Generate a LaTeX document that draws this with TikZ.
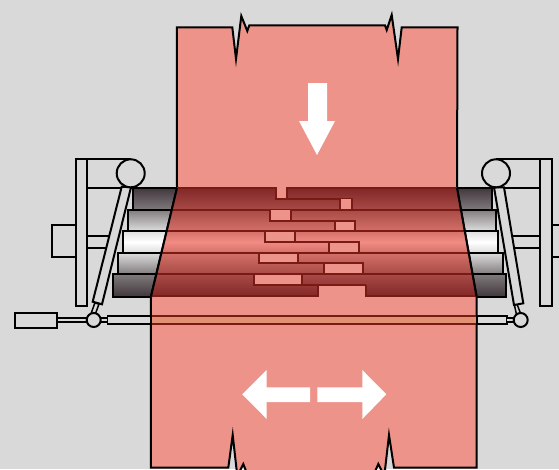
\documentclass[tikz,border=0pt]{standalone}
\definecolor{bgc}{RGB}{217,217,217}
\definecolor{sheet}{RGB}{238,147,138}
\definecolor{edge}{RGB}{122,26,20}
\definecolor{strip}{RGB}{224,146,115}
\definecolor{ra}{RGB}{130,40,40}
\definecolor{rb}{RGB}{168,74,70}
\definecolor{rc}{RGB}{212,112,104}
\definecolor{rd}{RGB}{240,140,130}
\definecolor{ga}{RGB}{65,55,60}
\definecolor{gb}{RGB}{128,122,124}
\definecolor{gc}{RGB}{222,222,222}
\tikzset{
  part/.style={draw=black,line width=2pt,fill=bgc},
  plainline/.style={draw=black,line width=2pt},
  sheetshape/.style={draw=black,line width=2pt,fill=sheet,miter limit=30,line join=miter},
  gap/.style={fill=sheet,draw=edge,line width=1.8pt},
  seam/.style={draw=edge,line width=2pt},
  whitearrow/.style={fill=white,draw=none}
}
\begin{document}
\begin{tikzpicture}[x=1pt,y=-1pt]
\useasboundingbox (0,0) rectangle (559,469);
\clip (0,0) rectangle (559,469);
\fill[bgc] (0,0) rectangle (559,469);
% left frame
\draw[part] (51.7,225.3) rectangle (76,256.7);
\draw[part] (87,236) rectangle (112,248.3);
\draw[part] (76,159.3) rectangle (87.3,305.7);
\draw[plainline] (87.3,159.3) -- (131,159.3);
\draw[plainline] (87.3,188.3) -- (135,188.3);
% right frame
\draw[part] (551.7,225.3) rectangle (565,256.7);
\draw[part] (508,236) rectangle (540,248.3);
\draw[part] (540,159.3) rectangle (551.7,305.7);
\draw[plainline] (496,159.3) -- (540,159.3);
\draw[plainline] (490,188.3) -- (540,188.3);
% grey rolls, left
\shade[top color=ga,bottom color=gb] (133,188) rectangle (180,209.5);
\shade[top color=gb,bottom color=gc] (128,209.5) rectangle (180,231);
\shade[top color=gc,bottom color=gc,middle color=white] (123.3,231) rectangle (180,252.7);
\shade[top color=gc,bottom color=gb] (118,252.7) rectangle (180,274.3);
\shade[top color=gb,bottom color=ga] (112.5,274.3) rectangle (180,296.5);
\foreach \xa/\ya/\yb in {133/188/209.5,128/209.5/231,123.3/231/252.7,118/252.7/274.3,112.5/274.3/296.5}
  \draw[plainline] (177,\ya) -- (\xa,\ya) -- (\xa,\yb) -- (177,\yb);
% grey rolls, right
\shade[top color=ga,bottom color=gb] (450,188) rectangle (491.7,209.5);
\shade[top color=gb,bottom color=gc] (450,209.5) rectangle (495.7,231);
\shade[top color=gc,bottom color=gc,middle color=white] (450,231) rectangle (498.3,252.7);
\shade[top color=gc,bottom color=gb] (450,252.7) rectangle (502.7,274.3);
\shade[top color=gb,bottom color=ga] (450,274.3) rectangle (506,296.5);
\foreach \xa/\ya/\yb in {491.7/188/209.5,495.7/209.5/231,498.3/231/252.7,502.7/252.7/274.3,506/274.3/296.5}
  \draw[plainline] (450,\ya) -- (\xa,\ya) -- (\xa,\yb) -- (450,\yb);
% sheet
\draw[sheetshape] (151,296) -- (177,188) -- (176.8,27.3) -- (232.3,27.3) -- (236,59) -- (241.3,16) -- (247.3,31) -- (249.3,25.3) -- (385,25.3) -- (386.7,30) -- (391.7,15) -- (398,59) -- (401.7,27.3) -- (457.5,27.3) -- (457,188) -- (476.5,296) -- (476.7,467.7) -- (394,467.7) -- (389,435) -- (384.3,476) -- (378.3,464) -- (373,476) -- (248,476) -- (243.3,464) -- (237.3,476) -- (232.7,435) -- (228.3,467.7) -- (150.8,467.7) -- cycle;
% rolls across the sheet
\shade[top color=ra,bottom color=rb] (177,188) -- (457,188) -- (460.8,209.5) -- (171.8,209.5) -- cycle;
\shade[top color=rb,bottom color=rc] (171.8,209.5) -- (460.8,209.5) -- (464.7,231) -- (166.6,231) -- cycle;
\shade[top color=rc,bottom color=rc,middle color=rd] (166.6,231) -- (464.7,231) -- (468.6,252.7) -- (161.4,252.7) -- cycle;
\shade[top color=rc,bottom color=rb] (161.4,252.7) -- (468.6,252.7) -- (472.5,274.3) -- (156.2,274.3) -- cycle;
\shade[top color=rb,bottom color=ra] (156.2,274.3) -- (472.5,274.3) -- (476.5,296.5) -- (151,296.5) -- cycle;
% seams
\draw[seam] (177,188) -- (276,188);
\draw[seam] (287,188) -- (457,188);
\draw[seam] (171.8,209.5) -- (460.8,209.5);
\draw[seam] (166.6,231) -- (464.7,231);
\draw[seam] (161.4,252.7) -- (468.6,252.7);
\draw[seam] (156.2,274.3) -- (472.5,274.3);
\draw[seam] (151,296.3) -- (318.3,296.3);
\draw[seam] (366,296.3) -- (476.5,296.3);
% overlap gaps
\fill[sheet] (276,186) rectangle (287,198.5);
\draw[seam] (276,187) -- (276,198.5) -- (352,198.5) -- (352,209.5);
\draw[seam] (287,187) -- (287,198.5);
\draw[gap] (340,198.5) rectangle (352,209.5);
\draw[gap] (270,209.5) rectangle (291,220.7);
\draw[seam] (270,220.7) -- (355.3,220.7);
\draw[gap] (334.7,220.7) rectangle (355.3,231);
\draw[gap] (264.7,231) rectangle (295,242);
\draw[seam] (264.7,242) -- (359.3,242);
\draw[gap] (328.7,242) rectangle (359.3,252.7);
\draw[gap] (259.3,252.7) rectangle (298.3,263.3);
\draw[seam] (259.3,263.3) -- (363,263.3);
\draw[gap] (323.7,263.3) rectangle (363,274.3);
\draw[gap] (253.7,274.3) rectangle (302,285.3);
\draw[seam] (253.7,285.3) -- (366,285.3);
\fill[sheet] (318.3,285.3) rectangle (366,298.5);
\draw[seam] (318.3,285.3) -- (318.3,297.2);
\draw[seam] (366,285.3) -- (366,297.2);
\draw[seam] (318.3,285.3) -- (366,285.3);
% sheet side edges over the rolls
\draw[plainline] (177,188) -- (151,296.5);
\draw[plainline] (457,188) -- (476.5,296.5);
% cross bar
\fill[strip] (151,316) rectangle (476.5,324);
\draw[draw=edge,line width=1.6pt] (151,316) -- (476.5,316);
\draw[draw=edge,line width=1.6pt] (151,324) -- (476.5,324);
\draw[part,line width=1.6pt] (151,316) -- (107.3,316) -- (107.3,324) -- (151,324);
\draw[part,line width=1.6pt] (476.5,316) -- (506.7,316) -- (506.7,324) -- (476.5,324);
\draw[plainline] (151,315) -- (151,325);
\draw[plainline] (476.5,315) -- (476.5,325);
\draw[part,line width=1.5pt] (56.7,317.8) rectangle (90,321.8);
\draw[part,line width=1.5pt] (98,317.8) rectangle (107.3,321.8);
\draw[part,line width=1.5pt] (506.7,317.8) rectangle (516,321.8);
\draw[part] (14.7,312.7) rectangle (56.7,327.7);
% arms
\draw[part,line width=1.5pt] (94.8,303) -- (90.6,315) -- (94.6,316) -- (99,304) -- cycle;
\draw[part,line width=1.5pt] (517,304) -- (521.5,316) -- (517,317) -- (514.3,304.5) -- cycle;
\draw[part] (121.7,186.7) -- (131,187.3) -- (102,304.3) -- (92.7,301.7) -- cycle;
\draw[part] (494,187.3) -- (504,187.3) -- (523.3,303.3) -- (514,305) -- cycle;
\draw[part] (130.7,173.3) circle (14);
\draw[part] (496,173.3) circle (14);
\draw[part] (93.7,320) circle (7);
\draw[part] (520.7,320) circle (7);
% motion arrows
\fill[whitearrow] (308,83) -- (327,83) -- (327,121) -- (335,121) -- (317,155) -- (299,121) -- (308,121) -- cycle;
\fill[whitearrow] (310,387.3) -- (266.7,387.3) -- (266.7,370) -- (242.3,394.3) -- (266.7,419) -- (266.7,402) -- (310,402) -- cycle;
\fill[whitearrow] (317.3,387.3) -- (362.3,387.3) -- (362.3,370) -- (386.3,394.3) -- (362.3,419) -- (362.3,402) -- (317.3,402) -- cycle;
\end{tikzpicture}
\end{document}
